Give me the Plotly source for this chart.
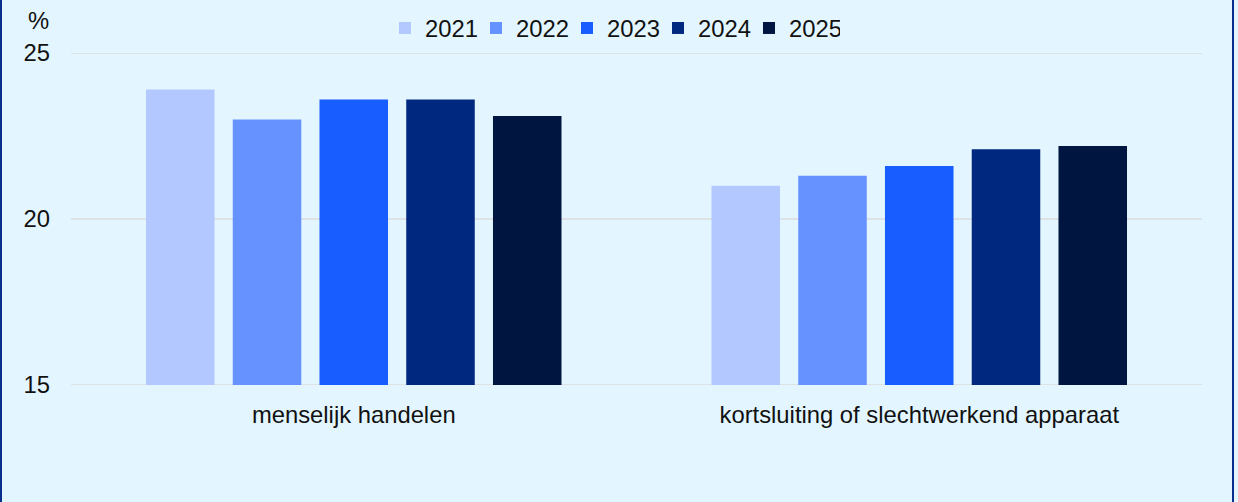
import plotly.graph_objects as go

categories = ["menselijk handelen", "kortsluiting of slechtwerkend apparaat"]
years = ["2021", "2022", "2023", "2024", "2025"]
values = {
    "2021": [23.9, 21.0],
    "2022": [23.0, 21.3],
    "2023": [23.6, 21.6],
    "2024": [23.6, 22.1],
    "2025": [23.1, 22.2],
}
colors = ["#b3c8ff", "#6692ff", "#175dff", "#00287f", "#001640"]
y_ticks = [15, 20, 25]

W, H = 1238, 502
L, R, T, B = 71, 36, 53, 117
PW = W - L - R
PH = H - T - B

fig = go.Figure()
for yr, col in zip(years, colors):
    fig.add_trace(go.Bar(
        name=yr, x=categories, y=values[yr], marker_color=col,
        marker_line_width=0,
    ))
# invisible spacer entry so the last legend label is not clipped
fig.add_trace(go.Scatter(x=[], y=[], name=" ", mode="markers",
                         marker=dict(color="rgba(0,0,0,0)"),
                         hoverinfo="skip"))

bg = "#e3f6ff"
grid_col = "#dde2e5"
font = dict(family="Arial, Liberation Sans, sans-serif", size=23.8, color="#111111")

def px_to_paper_x(px):
    return (px - L) / PW

def px_to_paper_y(py):
    return (H - B - py) / PH

border_col = "#0a2d8c"
shapes = [
    dict(type="rect", xref="paper", yref="paper",
         x0=px_to_paper_x(0), x1=px_to_paper_x(2),
         y0=px_to_paper_y(H), y1=px_to_paper_y(0),
         fillcolor=border_col, line_width=0, layer="above"),
    dict(type="rect", xref="paper", yref="paper",
         x0=px_to_paper_x(1232), x1=px_to_paper_x(1234),
         y0=px_to_paper_y(H), y1=px_to_paper_y(0),
         fillcolor=border_col, line_width=0, layer="above"),
]
# gridlines at the range edges (plotly hides them there)
for v in (y_ticks[0], y_ticks[-1]):
    shapes.append(dict(type="line", xref="paper", yref="y", x0=0, x1=1,
                       y0=v, y1=v, line=dict(color=grid_col, width=2),
                       layer="below"))

fig.update_layout(
    width=W, height=H,
    margin=dict(l=L, r=R, t=T, b=B, pad=0, autoexpand=False),
    paper_bgcolor=bg, plot_bgcolor=bg,
    font=font,
    barmode="group", bargap=0.233, bargroupgap=0.21,
    showlegend=True,
    legend=dict(orientation="h", xref="container", x=385 / W, xanchor="left",
                yref="container", y=1 - 28 / H, yanchor="middle",
                font=font, bgcolor="rgba(0,0,0,0)", itemwidth=30,
                entrywidth=46, entrywidthmode="pixels",
                tracegroupgap=0),
    shapes=shapes,
    annotations=[dict(text="%", xref="paper", yref="paper",
                      x=px_to_paper_x(38), y=px_to_paper_y(20),
                      xanchor="center", yanchor="middle", showarrow=False,
                      font=font)],
)
fig.update_yaxes(range=[y_ticks[0], y_ticks[-1]], tickvals=y_ticks, showgrid=True,
                 gridcolor=grid_col, gridwidth=2, zeroline=False,
                 showline=False, ticks="", ticklabelstandoff=20,
                 tickfont=font)
fig.update_xaxes(showgrid=False, showline=False, ticks="",
                 ticklabelstandoff=13, tickfont=font)

fig.write_html("out.html", config={"displayModeBar": False},
               post_script="document.body.style.margin='0';document.body.style.overflow='hidden';")
